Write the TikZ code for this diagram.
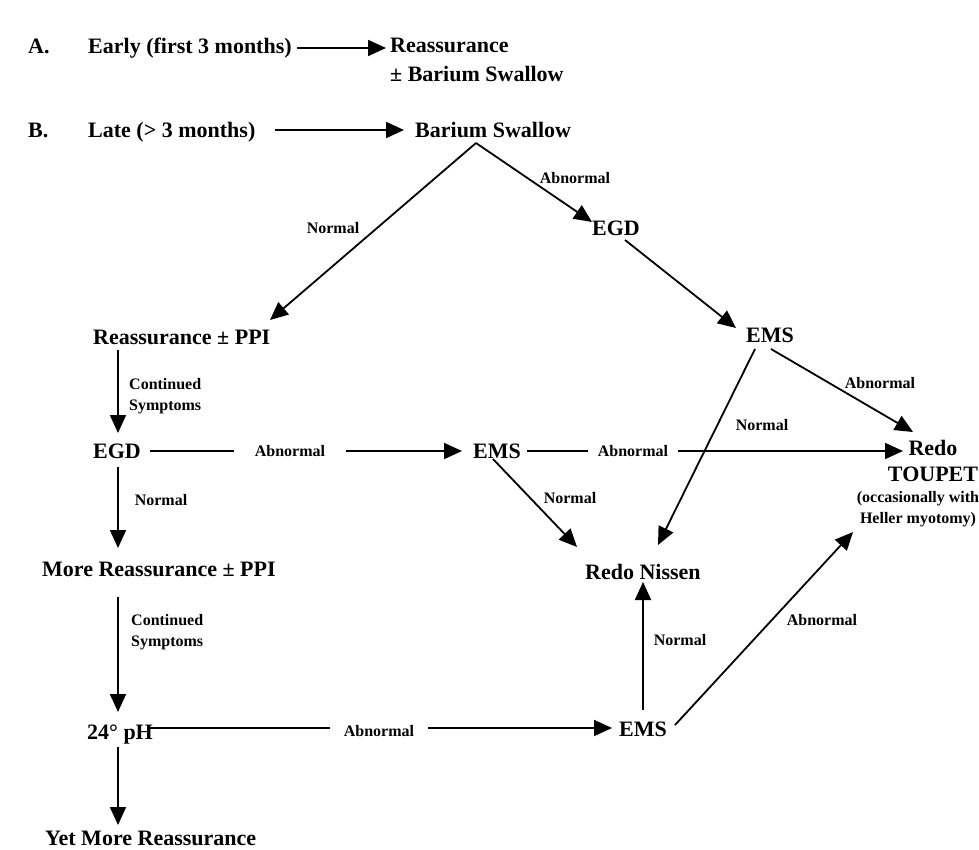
\documentclass[tikz,border=0pt]{standalone}
\usepackage{fontspec}
\setmainfont{Liberation Serif}
\usetikzlibrary{arrows.meta}
\tikzset{
  main/.style={font=\fontsize{22}{26}\selectfont\bfseries, inner sep=0pt, text height=15pt, text depth=0pt},
  mainml/.style={font=\fontsize{22}{26}\selectfont\bfseries, inner sep=0pt, align=center},
  lab/.style={font=\fontsize{16}{20}\selectfont\bfseries, inner sep=0pt, text height=11pt, text depth=0pt},
  labml/.style={font=\fontsize{16}{20.5}\selectfont\bfseries, inner sep=0pt},
  gap/.style={fill=white, inner ysep=2pt},
  arr/.style={line width=1.8pt, -{Triangle[length=18pt,width=16pt]}},
}
\begin{document}
\begin{tikzpicture}[x=1pt,y=-1pt]
\fill[white] (0,0) rectangle (979,850);
\useasboundingbox (0,0) rectangle (979,850);

% main nodes
\node[main, anchor=west] (A) at (28,46) {A.};
\node[main, anchor=west] (early) at (88,46) {Early (first 3 months)};
\node[mainml, align=left, anchor=west, font=\fontsize{22}{29}\selectfont\bfseries] (reass) at (390,60) {Reassurance\\± Barium Swallow};
\node[main, anchor=west] (B) at (28,130) {B.};
\node[main, anchor=west] (late) at (88,130) {Late (> 3 months)};
\node[main, anchor=west] (bs) at (415,130) {Barium Swallow};
\node[main] (egd1) at (616,228) {EGD};
\node[main] (ems1) at (770,335) {EMS};
\node[main, anchor=west] (rp) at (93,337) {Reassurance ± PPI};
\node[main, anchor=west] (egd2) at (93,451) {EGD};
\node[main] (ems2) at (497,451) {EMS};
\node[mainml] (redo) at (933,461) {Redo\\TOUPET};
\node[labml, align=center] (occ) at (918,509) {(occasionally with\\Heller myotomy)};
\node[main, anchor=west] (rn) at (585,572) {Redo Nissen};
\node[main, anchor=west] (mr) at (42,569) {More Reassurance ± PPI};
\node[main, anchor=west] (ph) at (87,732) {24° pH};
\node[main] (ems3) at (643,729) {EMS};
\node[main, anchor=west] (ymr) at (45,838) {Yet More Reassurance};

\coordinate (apex) at ([shift={(61,13)}]bs.west);

% connectors
\draw[arr] ([shift={(5,2)}]early.east) -- ([shift={(-4,-12)}]reass.west);
\draw[arr] ([shift={(187,0)}]late.west) -- ([shift={(-11,0)}]bs.west);
\draw[arr] (apex) -- ([shift={(177,-17)}]rp.west);
\draw[arr] (apex) -- ([shift={(-24,-6)}]egd1.center);
\draw[arr] ([shift={(9,12)}]egd1.center) -- ([shift={(-34,-7)}]ems1.center);
\draw[arr] ([shift={(1,14)}]ems1.center) -- ([shift={(-20,-29)}]redo.center);
\draw[arr] ([shift={(-15,14)}]ems1.center) -- ([shift={(73,-27)}]rn.west);
\draw[arr] ([shift={(25,13)}]rp.west) -- ([shift={(25,-18)}]egd2.west);
\draw[arr] ([shift={(57,0)}]egd2.west) -- ([shift={(-35,0)}]ems2.center);
\draw[arr] ([shift={(30,0)}]ems2.center) -- ([shift={(-30,-10)}]redo.center);
\draw[arr] ([shift={(-4,8)}]ems2.center) -- ([shift={(-8,-25)}]rn.west);
\draw[arr] ([shift={(25,16)}]egd2.west) -- ([shift={(76,-21)}]mr.west);
\draw[arr] ([shift={(76,28)}]mr.west) -- ([shift={(31,-20)}]ph.west);
\draw[arr] ([shift={(63,-4)}]ph.west) -- ([shift={(-31,-1)}]ems3.center);
\draw[arr] ([shift={(0,-19)}]ems3.center) -- ([shift={(58,10)}]rn.west);
\draw[arr] ([shift={(32,-4)}]ems3.center) -- ([shift={(-65,23)}]occ.center);
\draw[arr] ([shift={(31,15)}]ph.west) -- ([shift={(73,-13)}]ymr.west);

% labels
\node[lab] (l1) at (333,228) {Normal};
\node[lab] (l2) at (575,178) {Abnormal};
\node[labml, align=left, anchor=west] (l3) at (129,396) {Continued\\Symptoms};
\node[lab] (l4) at (161,500) {Normal};
\node[lab, gap, inner xsep=21pt] (l5) at (290,451) {Abnormal};
\node[lab, gap, inner xsep=10pt] (l6) at (633,451) {Abnormal};
\node[lab] (l7) at (570,498) {Normal};
\node[lab] (l8) at (762,425) {Normal};
\node[lab] (l9) at (880,383) {Abnormal};
\node[labml, align=left, anchor=west] (l10) at (131,632) {Continued\\Symptoms};
\node[lab, gap, inner xsep=14pt] (l11) at (379,731) {Abnormal};
\node[lab] (l12) at (680,640) {Normal};
\node[lab] (l13) at (822,620) {Abnormal};
\end{tikzpicture}
\end{document}
